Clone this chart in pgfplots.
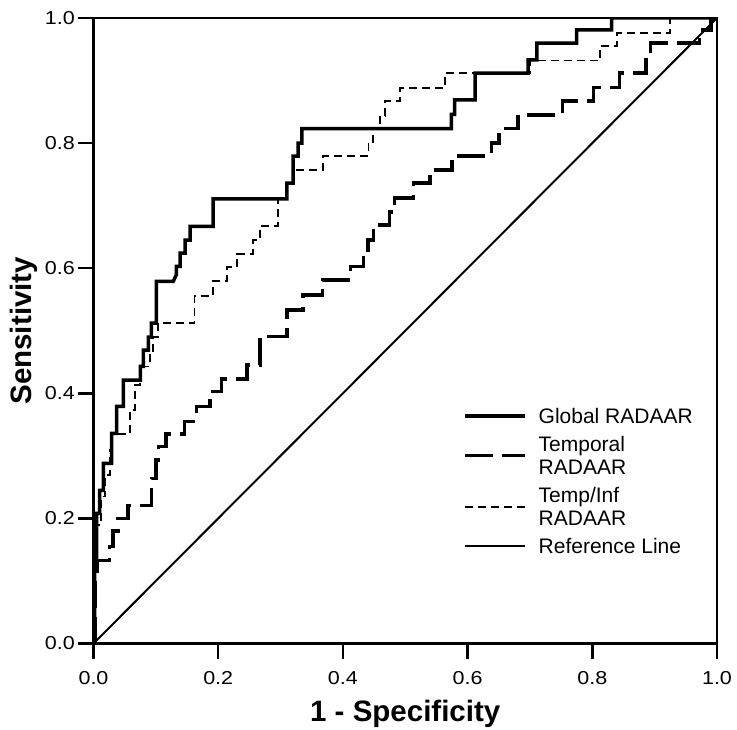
\documentclass[border=0pt]{standalone}
\usepackage{pgfplots}
\pgfplotsset{compat=1.18}
\usepackage{fontspec}
\setmainfont{Liberation Sans}
\newfontfamily\tickfont[FakeStretch=1.15]{Liberation Sans}

\begin{document}
\begin{tikzpicture}
\begin{axis}[
  at={(0,0)}, anchor=south west,
  scale only axis,
  width=623.5bp, height=625.5bp,
  xmin=0, xmax=1, ymin=0, ymax=1,
  xtick={0,0.2,0.4,0.6,0.8,1}, ytick={0,0.2,0.4,0.6,0.8,1},
  xticklabels={0.0,0.2,0.4,0.6,0.8,1.0},
  yticklabels={0.0,0.2,0.4,0.6,0.8,1.0},
  xtick pos=bottom, ytick pos=left,
  tick align=outside,
  major tick length=16bp,
  minor tick num=0,
  axis line style={line width=2.5bp, black},
  major tick style={line width=2.5bp, black},
  tick label style={font=\fontsize{18.7bp}{22bp}\tickfont, inner sep=0pt},
  xticklabel style={yshift=-12bp},
  yticklabel style={xshift=-2.5bp},
  xlabel={1 - Specificity},
  ylabel={Sensitivity},
  label style={font=\fontsize{29.5bp}{34bp}\selectfont\bfseries},
  xlabel style={at={(axis description cs:0.5,-0.113)}, anchor=center},
  ylabel style={at={(axis description cs:-0.111,0.5)}, anchor=center},
  legend style={draw=none, fill=none, at={(axis description cs:0.5926,0.378)},
    anchor=north west, inner sep=0pt, row sep=10.5bp, column sep=12bp,
    font=\fontsize{21bp}{23bp}\selectfont, nodes={inner sep=0pt, align=left}},
  legend cell align=left,
  legend image code/.code={\draw[#1] (0bp,0bp) -- (60bp,0bp);},
  clip=true,
]
\addplot[black, line width=3.5bp, line cap=butt, line join=miter] coordinates {
(0,0) (0.002,0) (0.002,0.128) (0.005,0.128) (0.005,0.208) (0.010,0.208)
(0.010,0.245) (0.016,0.245) (0.016,0.288) (0.029,0.288) (0.029,0.336)
(0.037,0.336) (0.037,0.379) (0.048,0.379) (0.048,0.421) (0.075,0.421)
(0.075,0.443) (0.080,0.443) (0.080,0.469) (0.088,0.469) (0.088,0.490)
(0.093,0.490) (0.093,0.512) (0.101,0.512) (0.101,0.579) (0.128,0.579)
(0.133,0.590) (0.133,0.603) (0.139,0.603) (0.139,0.624) (0.147,0.624)
(0.147,0.645) (0.155,0.645) (0.155,0.667) (0.192,0.667) (0.192,0.711)
(0.310,0.711) (0.310,0.736) (0.320,0.736) (0.320,0.779) (0.328,0.779)
(0.328,0.800) (0.334,0.800) (0.334,0.823) (0.574,0.823) (0.574,0.846)
(0.579,0.846) (0.579,0.869) (0.612,0.869) (0.612,0.912) (0.697,0.912)
(0.697,0.933) (0.711,0.933) (0.711,0.960) (0.775,0.960) (0.775,0.981)
(0.831,0.981) (0.831,1) (1,1)
};
\addlegendentry{\strut Global RADAAR}
\addplot[black, line width=3.5bp, line cap=butt, dash pattern=on 28bp off 9bp] coordinates {
(0,0) (0.003,0) (0.003,0.100) (0.006,0.100) (0.006,0.133) (0.026,0.133)
(0.026,0.155) (0.031,0.155) (0.031,0.180) (0.039,0.180) (0.039,0.200)
(0.055,0.200) (0.055,0.221) (0.093,0.221) (0.093,0.264) (0.100,0.264)
(0.100,0.293) (0.104,0.293) (0.104,0.315) (0.116,0.315) (0.116,0.335)
(0.146,0.335) (0.146,0.355) (0.165,0.355) (0.165,0.379) (0.187,0.379)
(0.187,0.403) (0.205,0.403) (0.205,0.423) (0.246,0.423) (0.246,0.445)
(0.267,0.445) (0.267,0.491) (0.310,0.491) (0.310,0.533) (0.336,0.533)
(0.336,0.557) (0.367,0.557) (0.367,0.581) (0.412,0.581) (0.412,0.603)
(0.433,0.603) (0.433,0.624) (0.440,0.624) (0.440,0.645) (0.449,0.645)
(0.449,0.669) (0.475,0.669) (0.475,0.690) (0.483,0.690) (0.483,0.712)
(0.513,0.712) (0.513,0.736) (0.540,0.736) (0.540,0.757) (0.575,0.757)
(0.575,0.779) (0.638,0.779) (0.638,0.800) (0.650,0.800) (0.650,0.823)
(0.681,0.823) (0.681,0.845) (0.752,0.845) (0.752,0.867) (0.802,0.867)
(0.802,0.889) (0.844,0.889) (0.844,0.912) (0.886,0.912) (0.886,0.937)
(0.893,0.937) (0.893,0.960) (0.972,0.960) (0.972,0.981) (0.990,0.981)
(0.990,1) (1,1)
};
\addlegendentry{\strut Temporal\\\strut RADAAR}
\addplot[black, line width=1.8bp, line cap=butt, dash pattern=on 8bp off 5bp] coordinates {
(0,0) (0.002,0) (0.002,0.13) (0.006,0.13) (0.006,0.19) (0.012,0.19)
(0.012,0.235) (0.018,0.235) (0.018,0.27) (0.026,0.27) (0.026,0.31)
(0.030,0.31) (0.030,0.335) (0.058,0.335) (0.058,0.373) (0.066,0.373)
(0.066,0.413) (0.075,0.413) (0.075,0.443) (0.090,0.443) (0.090,0.468)
(0.095,0.468) (0.095,0.490) (0.104,0.490) (0.104,0.512) (0.162,0.512)
(0.162,0.556) (0.192,0.556) (0.192,0.579) (0.214,0.579) (0.214,0.602)
(0.230,0.602) (0.230,0.623) (0.256,0.623) (0.256,0.645) (0.267,0.645)
(0.267,0.667) (0.296,0.667) (0.296,0.711) (0.310,0.711) (0.310,0.736)
(0.320,0.736) (0.320,0.757) (0.368,0.757) (0.368,0.779) (0.441,0.779)
(0.441,0.800) (0.448,0.800) (0.448,0.823) (0.460,0.823) (0.460,0.843)
(0.468,0.843) (0.468,0.867) (0.491,0.867) (0.491,0.888) (0.564,0.888)
(0.564,0.912) (0.700,0.912) (0.700,0.932) (0.812,0.932) (0.812,0.955)
(0.839,0.955) (0.839,0.976) (0.925,0.976) (0.925,1) (1,1)
};
\addlegendentry{\strut Temp/Inf\\\strut RADAAR}
\addplot[black, line width=2bp] coordinates {(0,0) (1,1)};
\addlegendentry{\strut Reference Line}
\end{axis}
\pgfresetboundingbox
\useasboundingbox (-93.5bp,-86bp) rectangle (643.5bp,643.5bp);
\end{tikzpicture}
\end{document}
